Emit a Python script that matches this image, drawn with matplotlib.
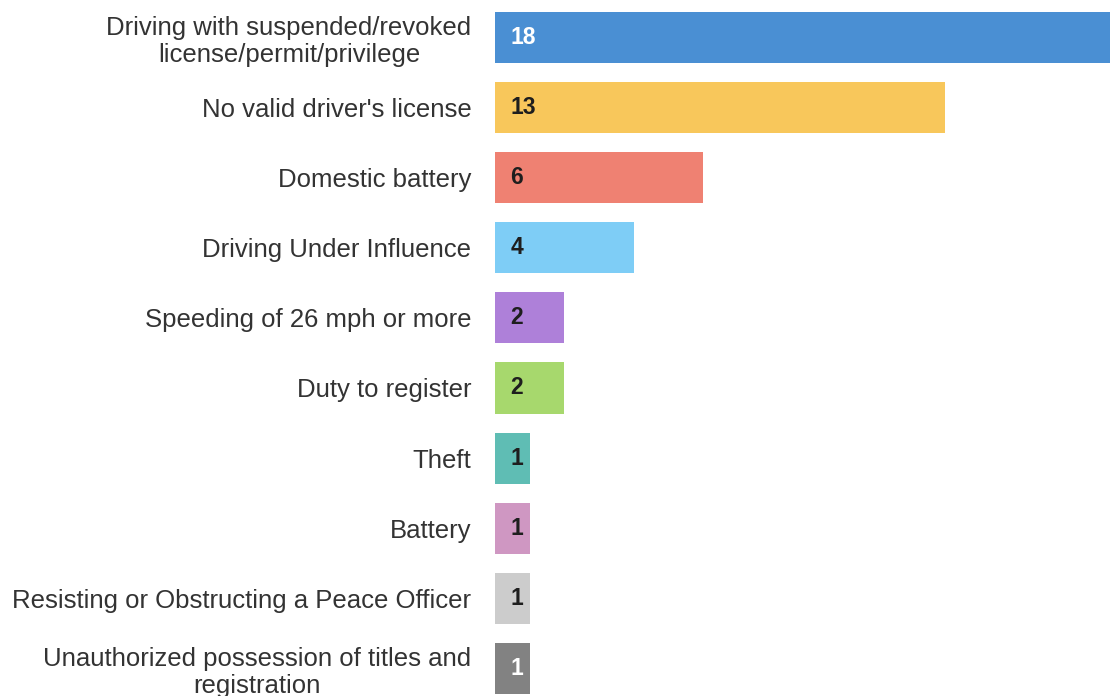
import matplotlib.pyplot as plt

plt.rcParams['font.family'] = ['Liberation Sans', 'DejaVu Sans']

categories = ['Driving with suspended/revoked\nlicense/permit/privilege',
              "No valid driver's license",
              'Domestic battery',
              'Driving Under Influence',
              'Speeding of 26 mph or more',
              'Duty to register',
              'Theft',
              'Battery',
              'Resisting or Obstructing a Peace Officer',
              'Unauthorized possession of titles and\nregistration']
counts = [18, 13, 6, 4, 2, 2, 1, 1, 1, 1]
colors = ['#4a8fd3', '#f8c75b', '#ef8172', '#7ecdf6', '#ae80d9',
          '#a7d86d', '#5fbdb4', '#cf97c2', '#cccccc', '#828282']
text_colors = ['white', '#1e1e1e', '#1e1e1e', '#1e1e1e', '#1e1e1e',
               '#1e1e1e', '#1e1e1e', '#1e1e1e', '#1e1e1e', 'white']

fig = plt.figure(figsize=(11.1, 6.96), dpi=100)
ax = fig.add_axes([0.446, 0.0, 0.554, 1.0])

ypos = list(range(len(counts)))
ax.barh(ypos, counts, height=0.73, color=colors)

for y, v, tc in zip(ypos, counts, text_colors):
    ax.annotate(str(v), (0, y), xytext=(11, 0), textcoords='offset points',
                ha='left', va='center', fontsize=16.5, fontweight='bold', color=tc)

ax.set_xlim(0, 17.75)
ax.set_ylim(9.394, -0.535)
ax.set_yticks(ypos)
ax.set_yticklabels(categories, fontsize=18.5, color='#333333')
for lbl in ax.get_yticklabels():
    lbl.set_multialignment('center')
    lbl.set_linespacing(1.15)
ax.tick_params(axis='y', length=0, pad=17)
ax.set_xticks([])
for s in ax.spines.values():
    s.set_visible(False)

plt.savefig('out.png', dpi=100)
